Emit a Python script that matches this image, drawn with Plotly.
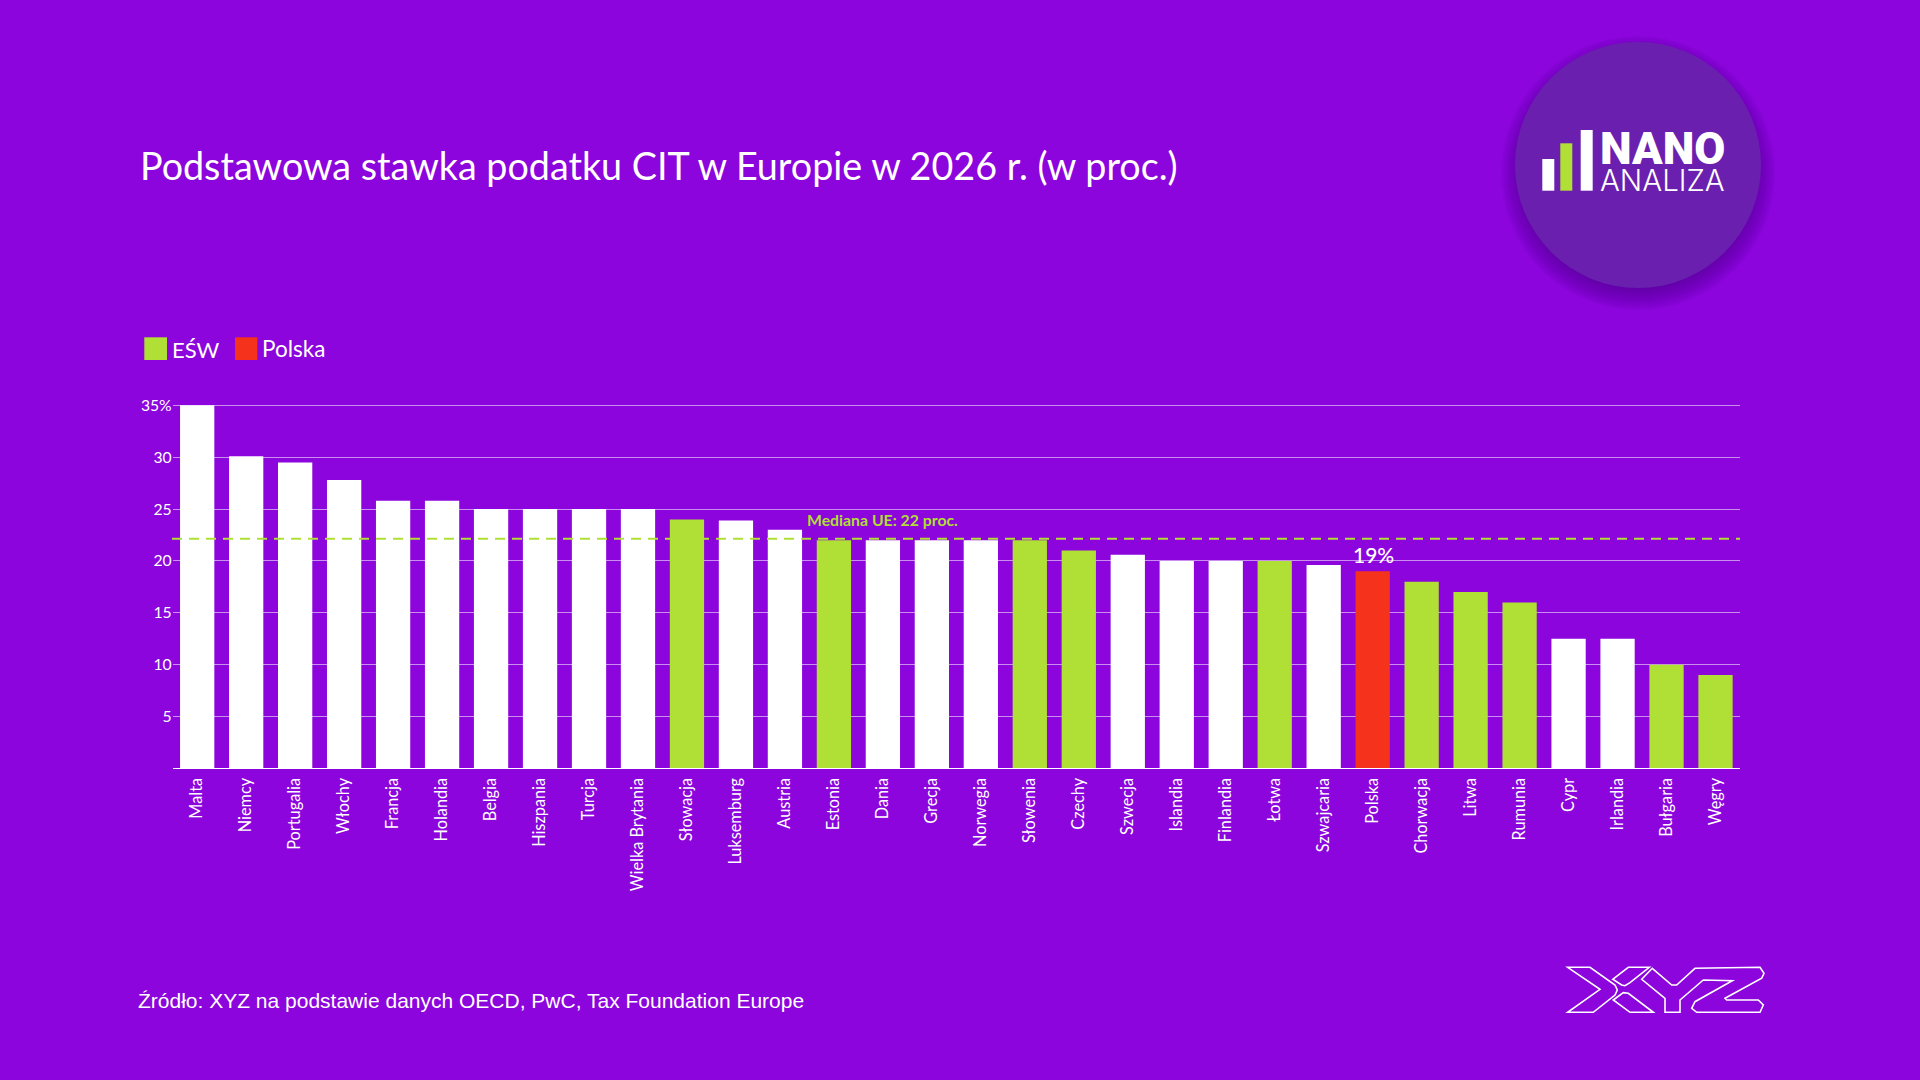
import plotly.graph_objects as go

countries = ["Malta", "Niemcy", "Portugalia", "Włochy", "Francja", "Holandia", "Belgia", "Hiszpania",
             "Turcja", "Wielka Brytania", "Słowacja", "Luksemburg", "Austria", "Estonia", "Dania", "Grecja",
             "Norwegia", "Słowenia", "Czechy", "Szwecja", "Islandia", "Finlandia", "Łotwa", "Szwajcaria",
             "Polska", "Chorwacja", "Litwa", "Rumunia", "Cypr", "Irlandia", "Bułgaria", "Węgry"]
rates = [35, 30.1, 29.5, 27.8, 25.8, 25.8, 25, 25,
         25, 25, 24, 23.9, 23, 22, 22, 22,
         22, 22, 21, 20.6, 20, 20, 20, 19.6,
         19, 18, 17, 16, 12.5, 12.5, 10, 9]
esw = ["Słowacja", "Estonia", "Słowenia", "Czechy", "Łotwa", "Chorwacja", "Litwa", "Rumunia", "Bułgaria", "Węgry"]
median_eu = 22.14
y_ticks = [5, 10, 15, 20, 25, 30, 35]
y_labels = ["5", "10", "15", "20", "25", "30", "35%"]

BG = "#8B05DC"
GREEN = "#B0DF35"
RED = "#F5331C"
BADGE = "#6A1FAF"
W, H = 1920, 1080


def px(x):
    return x / W


def py(y):
    return 1 - y / H


def rect(x0, y0, x1, y1, color):
    return dict(type="rect", xref="paper", yref="paper", x0=px(x0), x1=px(x1), y0=py(y0), y1=py(y1),
                fillcolor=color, line_width=0)


def circle(cx, cy, r, color):
    return dict(type="circle", xref="paper", yref="paper", x0=px(cx - r), x1=px(cx + r), y0=py(cy - r),
                y1=py(cy + r), fillcolor=color, line_width=0)


def outline(points):
    # logo outline, points are given in pixels of the page
    p = " L ".join(f"{px(x):.5f},{py(y):.5f}" for x, y in points)
    return dict(type="path", xref="paper", yref="paper", path="M " + p + " Z", line=dict(color="white", width=1.6))


def label(x, y, text, size, font="Lato", color="white", anchor="left", weight=None):
    return dict(xref="paper", yref="paper", x=px(x), y=py(y), text=text, showarrow=False, xanchor=anchor,
                yanchor="middle", font=dict(family=font, size=size, color=color, weight=weight))


colors = [RED if c == "Polska" else GREEN if c in esw else "white" for c in countries]

fig = go.Figure()
fig.add_trace(go.Bar(x=countries, y=rates, marker=dict(color=colors, line_width=0), showlegend=False))

shapes = []
# badge shadow
for i in range(14):
    shapes.append(circle(1638, 173, 123 + 14 - i * 2, "rgba(60,0,120,0.05)"))
shapes.append(circle(1638, 165, 123, BADGE))
shapes += [rect(1542.3, 159, 1554.3, 190.7, "white"),
           rect(1560.3, 143.3, 1572.3, 190.7, GREEN),
           rect(1580.7, 130, 1592.7, 190.7, "white"),
           rect(144.3, 337.3, 167, 360, GREEN),
           rect(235, 337.3, 257.3, 360, RED)]
# XYZ logo
shapes.append(outline([(1567.7, 967.3), (1590, 967.3), (1615, 985), (1617.3, 990), (1615, 995), (1593.3, 1012.3),
                       (1567.7, 1012.3), (1600, 989.3)]))
shapes.append(outline([(1612.7, 979.3), (1628.3, 967.3), (1649.3, 967.3), (1630, 982.7), (1625, 985.7),
                       (1621.7, 985)]))
shapes.append(outline([(1613.3, 1000), (1623.3, 992.7), (1628.3, 993.3), (1653.3, 1012.3), (1630, 1012.3)]))
shapes.append(outline([(1641.7, 979.3), (1652.3, 968.3), (1671.7, 985), (1676.7, 985), (1695, 968.3), (1760, 967.3),
                       (1764, 973.3), (1761.7, 978.3), (1725, 998.3), (1726.7, 1000), (1758.3, 1000), (1763.3, 1005),
                       (1760, 1012.3), (1696.7, 1012.3), (1691.7, 1008.3), (1695, 1001.7), (1732.3, 980.7),
                       (1703.3, 980), (1680, 1000), (1680, 1012.3), (1665, 1012.3), (1665, 998.3)]))
# median line
shapes.append(dict(type="line", xref="paper", yref="y", x0=px(172), x1=px(1740), y0=median_eu, y1=median_eu,
                   layer="above", line=dict(color=GREEN, width=2, dash="10px,7px")))

annotations = [
    label(137.5, 166, "Podstawowa stawka podatku CIT w Europie w 2026 r. (w proc.)", 37.7),
    label(170, 349, "EŚW", 22),
    label(260, 348.5, "Polska", 22.5),
    label(136, 1000, "Źródło: XYZ na podstawie danych OECD, PwC, Tax Foundation Europe", 21, font="Liberation Sans"),
    label(1598, 148, "NANO", 45, font="Roboto", weight=900),
    label(1597.5, 180, "ANALIZA", 29.5, font="Inter", weight=300),
    label(805, 519, "Mediana UE: 22 proc.", 15.8, color=GREEN, weight=700),
    dict(x="Polska", y=19, yref="y", text="19%", showarrow=False, yanchor="bottom", yshift=2, xshift=1,
         font=dict(family="Lato", size=21, color="white", weight=500)),
]

fig.update_layout(
    width=W, height=H, margin=dict(l=0, r=0, t=0, b=0),
    paper_bgcolor=BG, plot_bgcolor=BG,
    bargap=0.3, shapes=shapes, annotations=annotations, showlegend=False,
    xaxis=dict(domain=[px(172.7), px(1740)], type="category", categoryorder="array", categoryarray=countries,
               range=[-0.5, 31.5], tickangle=-90, showgrid=False, showline=True, linecolor="white", linewidth=1,
               automargin=False, ticks="outside", ticklen=2, tickcolor="rgba(0,0,0,0)",
               tickfont=dict(family="Lato", size=16.3, color="white")),
    yaxis=dict(domain=[py(768.4), py(404.3)], range=[0, 35.1], tickmode="array", tickvals=y_ticks, ticktext=y_labels,
               showgrid=True, gridcolor="rgba(255,255,255,0.55)", gridwidth=1, zeroline=False, showline=False,
               automargin=False, ticks="", ticklabelstandoff=0, tickfont=dict(family="Lato", size=15.7, color="white")),
)

fig.write_html("out.html", config=dict(displayModeBar=False),
               post_script="document.body.style.margin='0';document.body.style.overflow='hidden';")
